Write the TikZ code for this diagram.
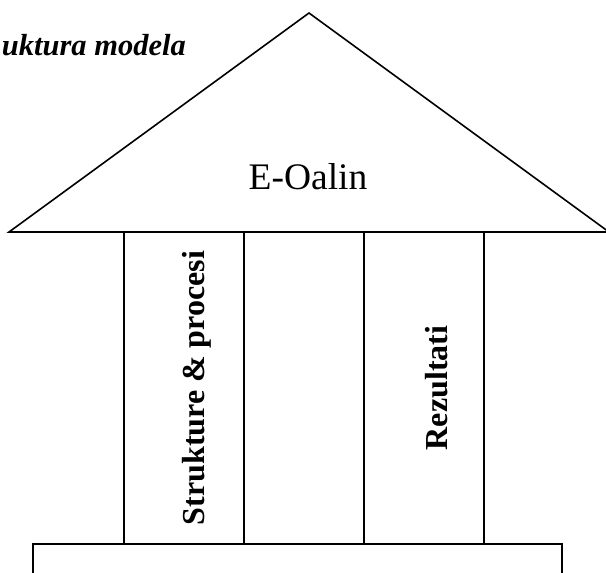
\documentclass[tikz,border=0pt]{standalone}
\usepackage{fontspec}
\setmainfont{Liberation Serif}
\tikzstyle{wall} = [draw,line width=1.6pt,-,line join=miter]
\tikzstyle{roof-text} = [font=\fontsize{37.5}{45}\selectfont,inner sep=0pt,anchor=base]
\tikzstyle{pillar-text} = [font=\fontsize{32}{38}\selectfont\bfseries,rotate=90,inner sep=0pt,anchor=base]
\tikzstyle{title-text} = [font=\fontsize{30.5}{36}\selectfont\bfseries\itshape,inner sep=0pt,anchor=base east]

\begin{document}
\begin{tikzpicture}[x=1pt,y=-1pt]
  \useasboundingbox (0,0) rectangle (606,573);
  \clip (0,0) rectangle (606,573);

  % We draw the roof first
  \coordinate (roof-l) at (9,232);
  \coordinate (roof-t) at (309,13);
  \coordinate (roof-r) at (609,232);
  \path[wall] (roof-l) -- (roof-t) -- (roof-r) -- cycle;

  % Then the four pillar lines
  \foreach \x/\name in {124/a, 244/b, 364/c, 484/d} {
    \coordinate (\name-top) at (\x,232);
    \coordinate (\name-bot) at (\x,544);
  }
  \foreach \source/ \dest in {a-top/a-bot, b-top/b-bot, c-top/c-bot, d-top/d-bot}
    \path[wall] (\source) -- (\dest);

  % The base, cut off at the bottom
  \coordinate (base-sw) at (33,590);
  \coordinate (base-nw) at (33,544);
  \coordinate (base-ne) at (562,544);
  \coordinate (base-se) at (562,590);
  \path[wall] (base-sw) -- (base-nw) -- (base-ne) -- (base-se);

  % Labels
  \node[title-text] (title) at (186,55) {uktura modela};
  \node[roof-text] (roof) at (308,189) {E-Oalin};
  \node[pillar-text] (procesi) at (204,388) {Strukture \& procesi};
  \node[pillar-text] (rezultati) at (447,388) {Rezultati};
\end{tikzpicture}
\end{document}
